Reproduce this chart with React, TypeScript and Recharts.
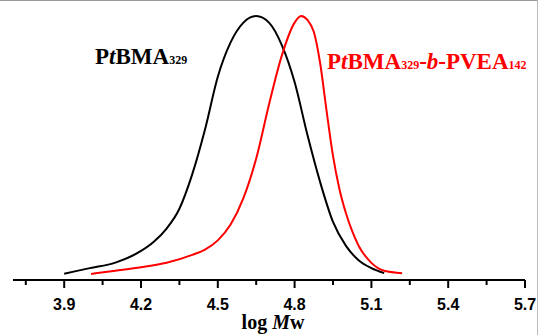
import React from 'react'
import { LineChart, Line, XAxis, YAxis, Customized } from 'recharts'

// GPC traces (log Mw vs normalized signal)
const blackX = [3.9, 4.0, 4.1, 4.2, 4.25, 4.3, 4.35, 4.4, 4.45, 4.5, 4.55, 4.6, 4.65, 4.7, 4.75, 4.8, 4.85, 4.9, 4.95, 5.0, 5.05, 5.1, 5.15]
const blackY = [0.024, 0.045, 0.066, 0.11, 0.145, 0.195, 0.27, 0.4, 0.57, 0.77, 0.9, 0.975, 1.0, 0.975, 0.89, 0.75, 0.55, 0.37, 0.22, 0.13, 0.075, 0.045, 0.026]

const redX = [4.005, 4.1, 4.2, 4.3, 4.4, 4.45, 4.5, 4.55, 4.6, 4.65, 4.7, 4.75, 4.8, 4.825, 4.85, 4.875, 4.9, 4.925, 4.95, 4.975, 5.0, 5.025, 5.05, 5.1, 5.15, 5.22]
const redY = [0.023, 0.035, 0.048, 0.065, 0.095, 0.115, 0.15, 0.21, 0.31, 0.46, 0.665, 0.85, 0.975, 1.0, 0.985, 0.94, 0.82, 0.64, 0.47, 0.345, 0.255, 0.185, 0.13, 0.065, 0.035, 0.026]

const majorTicks = [3.9, 4.2, 4.5, 4.8, 5.1, 5.4, 5.7]
const minorTicks = [3.75, 4.05, 4.35, 4.65, 4.95, 5.25, 5.55]

const blackData = blackX.map((x, i) => ({ x, y: blackY[i] }))
const redData = redX.map((x, i) => ({ x, y: redY[i] }))
const allTicks = [...majorTicks, ...minorTicks].sort((a, b) => a - b)

const serif = '"Liberation Serif", "Times New Roman", serif'
const sans = '"Liberation Sans", Arial, sans-serif'

const isMajor = (v: number) => majorTicks.some(t => Math.abs(t - v) < 1e-6)

const Tick = (props: any) => {
  const { x, y, payload } = props
  const major = isMajor(payload.value)
  return (
    <g>
      <line x1={x} x2={x} y1={y} y2={y + (major ? 8 : 5)} stroke="#000" strokeWidth={2} />
      {major && (
        <text x={x} y={y + 30} textAnchor="middle" fontFamily={sans} fontWeight="bold" fontSize={16} fill="#000">
          {payload.value.toFixed(1)}
        </text>
      )}
    </g>
  )
}

const Labels = () => (
  <g fontFamily={serif} fontWeight="bold">
    <text x={95} y={64} fontSize={23} fill="#000">
      P<tspan fontStyle="italic">t</tspan>BMA<tspan fontSize={12}>329</tspan>
    </text>
    <text x={327} y={69} fontSize={23} fill="#ff0000">
      P<tspan fontStyle="italic">t</tspan>BMA<tspan fontSize={12}>329</tspan>-<tspan fontStyle="italic">b</tspan>-PVEA<tspan fontSize={12}>142</tspan>
    </text>
    <text x={273} y={329} fontSize={20} textAnchor="middle" fill="#000">
      log <tspan fontStyle="italic">M</tspan>w
    </text>
  </g>
)

export default function App() {
  return (
    <div style={{ position: 'absolute', left: 0, top: 0, width: 538, height: 335, background: '#fff' }}>
      <div style={{ position: 'absolute', left: 0, top: 0, width: 538, height: 1, background: '#999' }} />
      <div style={{ position: 'absolute', left: 537, top: 0, width: 1, height: 335, background: '#bbb' }} />
      <LineChart width={538} height={335} margin={{ top: 16, right: 13, bottom: 0, left: 13 }}>
        <XAxis
          type="number"
          dataKey="x"
          domain={[3.7, 5.7]}
          ticks={allTicks}
          interval={0}
          allowDataOverflow
          height={55}
          tickSize={0}
          tickMargin={0}
          tickLine={false}
          axisLine={{ stroke: '#000', strokeWidth: 2 }}
          tick={<Tick />}
        />
        <YAxis hide type="number" domain={[0, 1]} />
        <Line data={blackData} dataKey="y" type="monotone" stroke="#000" strokeWidth={2} dot={false} isAnimationActive={false} />
        <Line data={redData} dataKey="y" type="monotone" stroke="#ff0000" strokeWidth={2} dot={false} isAnimationActive={false} />
        <Customized component={Labels} />
      </LineChart>
    </div>
  )
}
